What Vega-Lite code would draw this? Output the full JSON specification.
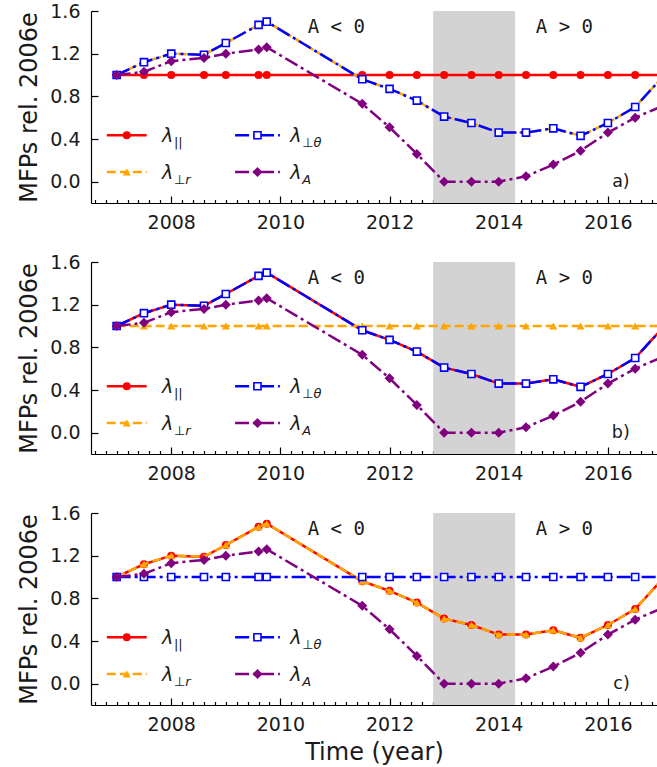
{
"$schema": "https://vega.github.io/schema/vega-lite/v6.json",
"padding": {"left": 17, "top": 2, "right": 0, "bottom": 0},
"datasets": {
"mfp": [
{"t":2007.0,"modulated":1.00,"lamA":1.00,"fixed":1.0},
{"t":2007.5,"modulated":1.12,"lamA":1.03,"fixed":1.0},
{"t":2008.0,"modulated":1.20,"lamA":1.13,"fixed":1.0},
{"t":2008.6,"modulated":1.19,"lamA":1.16,"fixed":1.0},
{"t":2009.0,"modulated":1.30,"lamA":1.20,"fixed":1.0},
{"t":2009.6,"modulated":1.47,"lamA":1.24,"fixed":1.0},
{"t":2009.75,"modulated":1.50,"lamA":1.26,"fixed":1.0},
{"t":2011.5,"modulated":0.96,"lamA":0.73,"fixed":1.0},
{"t":2012.0,"modulated":0.87,"lamA":0.51,"fixed":1.0},
{"t":2012.5,"modulated":0.76,"lamA":0.26,"fixed":1.0},
{"t":2013.0,"modulated":0.61,"lamA":0.0,"fixed":1.0},
{"t":2013.5,"modulated":0.55,"lamA":0.0,"fixed":1.0},
{"t":2014.0,"modulated":0.46,"lamA":0.0,"fixed":1.0},
{"t":2014.5,"modulated":0.46,"lamA":0.05,"fixed":1.0},
{"t":2015.0,"modulated":0.50,"lamA":0.16,"fixed":1.0},
{"t":2015.5,"modulated":0.43,"lamA":0.29,"fixed":1.0},
{"t":2016.0,"modulated":0.55,"lamA":0.46,"fixed":1.0},
{"t":2016.5,"modulated":0.70,"lamA":0.60,"fixed":1.0},
{"t":2017.0,"modulated":0.98,"lamA":0.71,"fixed":1.0}
],
"bands": [{"start": 2012.8, "end": 2014.3}]
},
"config": {
"view": {"stroke": null},
"font": "DejaVu Sans",
"axis": {"domainColor": "black", "domainWidth": 1.2, "tickColor": "black", "tickWidth": 1.2, "labelFont": "DejaVu Sans", "labelFontSize": 19, "labelColor": "#1a1a1a", "titleFont": "DejaVu Sans", "titleFontSize": 24, "titleFontWeight": "normal", "titleColor": "#1a1a1a", "grid": false, "zindex": 1}
},
"spacing": 59,
"bounds": "flush",
"vconcat": [
{
"width": 566, "height": 192,
"resolve": {"axis": {"x": "independent", "y": "independent"}},
"layer": [
{"data": {"name": "bands"}, "mark": {"type": "rect", "color": "#d3d3d3"},
 "encoding": {
  "x": {"field": "start", "type": "quantitative", "scale": {"domain": [2006.53, 2016.9], "nice": false, "zero": false},
   "axis": {"orient": "bottom", "values": [2006.6,2006.8,2007,2007.2,2007.4,2007.6,2007.8,2008,2008.2,2008.4,2008.6,2008.8,2009,2009.2,2009.4,2009.6,2009.8,2010,2010.2,2010.4,2010.6,2010.8,2011,2011.2,2011.4,2011.6,2011.8,2012,2012.2,2012.4,2012.6,2012.8,2013,2013.2,2013.4,2013.6,2013.8,2014,2014.2,2014.4,2014.6,2014.8,2015,2015.2,2015.4,2015.6,2015.8,2016,2016.2,2016.4,2016.6,2016.8],
    "labelExpr": "abs(datum.value - 2*round(datum.value/2)) < 0.01 ? format(datum.value, 'd') : ''", "labelOverlap": false, "labelFlush": false,
    "tickSize": {"condition": {"test": "abs(datum.value - 2*round(datum.value/2)) < 0.01", "value": -7}, "value": -3.5}, "labelPadding": 17, "title": null}},
  "x2": {"field": "end"},
  "y": {"datum": -0.2, "type": "quantitative", "scale": {"domain": [-0.2, 1.6], "nice": false, "zero": false},
   "axis": {"orient": "left", "values": [0, 0.4, 0.8, 1.2, 1.6], "format": ".1f", "tickSize": -7, "labelPadding": 18, "title": "MFPs rel. 2006e", "titlePadding": 8.5}},
  "y2": {"datum": 1.6}
 }},
{"data": {"name": "mfp"}, "layer": [
 {"mark": {"type": "line", "color": "#ff0000", "strokeWidth": 2.5, "clip": true}, "encoding": {"x": {"field": "t", "type": "quantitative", "axis": null}, "y": {"field": "fixed", "type": "quantitative", "axis": null}}},
 {"mark": {"type": "point", "shape": "circle", "filled": true, "color": "#ff0000", "size": 64, "opacity": 1, "clip": true}, "encoding": {"x": {"field": "t", "type": "quantitative", "axis": null}, "y": {"field": "fixed", "type": "quantitative", "axis": null}}},
 {"mark": {"type": "line", "color": "#ffa500", "strokeWidth": 2.5, "strokeDash": [9, 4], "clip": true}, "encoding": {"x": {"field": "t", "type": "quantitative", "axis": null}, "y": {"field": "modulated", "type": "quantitative", "axis": null}}},
 {"mark": {"type": "point", "shape": "triangle-up", "filled": true, "color": "#ffa500", "size": 64, "opacity": 1, "clip": true}, "encoding": {"x": {"field": "t", "type": "quantitative", "axis": null}, "y": {"field": "modulated", "type": "quantitative", "axis": null}}},
 {"mark": {"type": "line", "color": "#0000ff", "strokeWidth": 2.5, "strokeDash": [14, 4, 3, 4], "clip": true}, "encoding": {"x": {"field": "t", "type": "quantitative", "axis": null}, "y": {"field": "modulated", "type": "quantitative", "axis": null}}},
 {"mark": {"type": "point", "shape": "square", "filled": true, "fill": "white", "stroke": "#0000ff", "strokeWidth": 1.6, "size": 50, "opacity": 1, "clip": true}, "encoding": {"x": {"field": "t", "type": "quantitative", "axis": null}, "y": {"field": "modulated", "type": "quantitative", "axis": null}}},
 {"mark": {"type": "line", "color": "#800080", "strokeWidth": 2.5, "strokeDash": [14, 4, 3, 4], "clip": true}, "encoding": {"x": {"field": "t", "type": "quantitative", "axis": null}, "y": {"field": "lamA", "type": "quantitative", "axis": null}}},
 {"mark": {"type": "point", "shape": "diamond", "filled": true, "color": "#800080", "size": 100, "opacity": 1, "clip": true}, "encoding": {"x": {"field": "t", "type": "quantitative", "axis": null}, "y": {"field": "lamA", "type": "quantitative", "axis": null}}}
]},
{"data": {"values": [{}]}, "layer": [
 {"mark": {"type": "text", "text": "A < 0", "font": "DejaVu Sans Mono", "fontSize": 19, "align": "left", "baseline": "middle", "color": "#1a1a1a"},
  "encoding": {"x": {"datum": 2010.5, "type": "quantitative", "axis": {"orient": "top", "values": [2006.6,2006.8,2007,2007.2,2007.4,2007.6,2007.8,2008,2008.2,2008.4,2008.6,2008.8,2009,2009.2,2009.4,2009.6,2009.8,2010,2010.2,2010.4,2010.6,2010.8,2011,2011.2,2011.4,2011.6,2011.8,2012,2012.2,2012.4,2012.6,2012.8,2013,2013.2,2013.4,2013.6,2013.8,2014,2014.2,2014.4,2014.6,2014.8,2015,2015.2,2015.4,2015.6,2015.8,2016,2016.2,2016.4,2016.6,2016.8], "labels": false, "tickSize": {"condition": {"test": "abs(datum.value - 2*round(datum.value/2)) < 0.01", "value": -7}, "value": -3.5}, "title": null}},
   "y": {"datum": 1.45, "type": "quantitative", "axis": {"orient": "right", "values": [0, 0.4, 0.8, 1.2, 1.6], "labels": false, "domain": false, "tickSize": -7, "title": null}}}},
 {"mark": {"type": "text", "text": "A > 0", "font": "DejaVu Sans Mono", "fontSize": 19, "align": "left", "baseline": "middle", "color": "#1a1a1a"},
  "encoding": {"x": {"datum": 2014.68, "type": "quantitative", "axis": null}, "y": {"datum": 1.45, "type": "quantitative", "axis": null}}},
 {"mark": {"type": "text", "text": "a)", "fontSize": 17.5, "align": "right", "baseline": "middle", "color": "#1a1a1a"},
  "encoding": {"x": {"datum": 2016.4, "type": "quantitative", "axis": null}, "y": {"datum": 0.0, "type": "quantitative", "axis": null}}},
 {"mark": {"type": "rule", "color": "#ff0000", "strokeWidth": 2.5}, "encoding": {"x": {"datum": 2006.82, "type": "quantitative", "axis": null}, "x2": {"datum": 2007.55}, "y": {"datum": 0.435, "type": "quantitative", "axis": null}}},
 {"mark": {"type": "point", "shape": "circle", "filled": true, "color": "#ff0000", "size": 64, "opacity": 1}, "encoding": {"x": {"datum": 2007.185, "type": "quantitative", "axis": null}, "y": {"datum": 0.435, "type": "quantitative", "axis": null}}},
 {"mark": {"type": "rule", "color": "#ffa500", "strokeWidth": 2.5, "strokeDash": [9, 4]}, "encoding": {"x": {"datum": 2006.82, "type": "quantitative", "axis": null}, "x2": {"datum": 2007.55}, "y": {"datum": 0.09, "type": "quantitative", "axis": null}}},
 {"mark": {"type": "point", "shape": "triangle-up", "filled": true, "color": "#ffa500", "size": 64, "opacity": 1}, "encoding": {"x": {"datum": 2007.185, "type": "quantitative", "axis": null}, "y": {"datum": 0.09, "type": "quantitative", "axis": null}}},
 {"mark": {"type": "rule", "color": "#0000ff", "strokeWidth": 2.5, "strokeDash": [14, 4, 3, 4]}, "encoding": {"x": {"datum": 2009.17, "type": "quantitative", "axis": null}, "x2": {"datum": 2009.99}, "y": {"datum": 0.435, "type": "quantitative", "axis": null}}},
 {"mark": {"type": "point", "shape": "square", "filled": true, "fill": "white", "stroke": "#0000ff", "strokeWidth": 1.6, "size": 50, "opacity": 1}, "encoding": {"x": {"datum": 2009.58, "type": "quantitative", "axis": null}, "y": {"datum": 0.435, "type": "quantitative", "axis": null}}},
 {"mark": {"type": "rule", "color": "#800080", "strokeWidth": 2.5, "strokeDash": [14, 4, 3, 4]}, "encoding": {"x": {"datum": 2009.17, "type": "quantitative", "axis": null}, "x2": {"datum": 2009.99}, "y": {"datum": 0.09, "type": "quantitative", "axis": null}}},
 {"mark": {"type": "point", "shape": "diamond", "filled": true, "color": "#800080", "size": 100, "opacity": 1}, "encoding": {"x": {"datum": 2009.58, "type": "quantitative", "axis": null}, "y": {"datum": 0.09, "type": "quantitative", "axis": null}}},
 {"mark": {"type": "text", "text": "λ", "fontStyle": "italic", "fontSize": 19, "align": "left", "baseline": "alphabetic", "color": "#1a1a1a"}, "encoding": {"x": {"datum": 2007.83, "type": "quantitative", "axis": null}, "y": {"datum": 0.369, "type": "quantitative", "axis": null}}},
 {"mark": {"type": "text", "text": "||", "fontSize": 13, "align": "left", "baseline": "alphabetic", "color": "#1a1a1a"}, "encoding": {"x": {"datum": 2008.05, "type": "quantitative", "axis": null}, "y": {"datum": 0.322, "type": "quantitative", "axis": null}}},
 {"mark": {"type": "text", "text": "λ", "fontStyle": "italic", "fontSize": 19, "align": "left", "baseline": "alphabetic", "color": "#1a1a1a"}, "encoding": {"x": {"datum": 2007.83, "type": "quantitative", "axis": null}, "y": {"datum": 0.024, "type": "quantitative", "axis": null}}},
 {"mark": {"type": "text", "text": "⊥r", "fontStyle": "italic", "fontSize": 13, "align": "left", "baseline": "alphabetic", "color": "#1a1a1a"}, "encoding": {"x": {"datum": 2008.05, "type": "quantitative", "axis": null}, "y": {"datum": -0.023, "type": "quantitative", "axis": null}}},
 {"mark": {"type": "text", "text": "λ", "fontStyle": "italic", "fontSize": 19, "align": "left", "baseline": "alphabetic", "color": "#1a1a1a"}, "encoding": {"x": {"datum": 2010.18, "type": "quantitative", "axis": null}, "y": {"datum": 0.369, "type": "quantitative", "axis": null}}},
 {"mark": {"type": "text", "text": "⊥θ", "fontStyle": "italic", "fontSize": 13, "align": "left", "baseline": "alphabetic", "color": "#1a1a1a"}, "encoding": {"x": {"datum": 2010.40, "type": "quantitative", "axis": null}, "y": {"datum": 0.322, "type": "quantitative", "axis": null}}},
 {"mark": {"type": "text", "text": "λ", "fontStyle": "italic", "fontSize": 19, "align": "left", "baseline": "alphabetic", "color": "#1a1a1a"}, "encoding": {"x": {"datum": 2010.18, "type": "quantitative", "axis": null}, "y": {"datum": 0.024, "type": "quantitative", "axis": null}}},
 {"mark": {"type": "text", "text": "A", "fontStyle": "italic", "fontSize": 13, "align": "left", "baseline": "alphabetic", "color": "#1a1a1a"}, "encoding": {"x": {"datum": 2010.40, "type": "quantitative", "axis": null}, "y": {"datum": -0.023, "type": "quantitative", "axis": null}}}
]}
]
},
{
"width": 566, "height": 192,
"resolve": {"axis": {"x": "independent", "y": "independent"}},
"layer": [
{"data": {"name": "bands"}, "mark": {"type": "rect", "color": "#d3d3d3"},
 "encoding": {
  "x": {"field": "start", "type": "quantitative", "scale": {"domain": [2006.53, 2016.9], "nice": false, "zero": false},
   "axis": {"orient": "bottom", "values": [2006.6,2006.8,2007,2007.2,2007.4,2007.6,2007.8,2008,2008.2,2008.4,2008.6,2008.8,2009,2009.2,2009.4,2009.6,2009.8,2010,2010.2,2010.4,2010.6,2010.8,2011,2011.2,2011.4,2011.6,2011.8,2012,2012.2,2012.4,2012.6,2012.8,2013,2013.2,2013.4,2013.6,2013.8,2014,2014.2,2014.4,2014.6,2014.8,2015,2015.2,2015.4,2015.6,2015.8,2016,2016.2,2016.4,2016.6,2016.8],
    "labelExpr": "abs(datum.value - 2*round(datum.value/2)) < 0.01 ? format(datum.value, 'd') : ''", "labelOverlap": false, "labelFlush": false,
    "tickSize": {"condition": {"test": "abs(datum.value - 2*round(datum.value/2)) < 0.01", "value": -7}, "value": -3.5}, "labelPadding": 17, "title": null}},
  "x2": {"field": "end"},
  "y": {"datum": -0.2, "type": "quantitative", "scale": {"domain": [-0.2, 1.6], "nice": false, "zero": false},
   "axis": {"orient": "left", "values": [0, 0.4, 0.8, 1.2, 1.6], "format": ".1f", "tickSize": -7, "labelPadding": 18, "title": "MFPs rel. 2006e", "titlePadding": 8.5}},
  "y2": {"datum": 1.6}
 }},
{"data": {"name": "mfp"}, "layer": [
 {"mark": {"type": "line", "color": "#ff0000", "strokeWidth": 2.5, "clip": true}, "encoding": {"x": {"field": "t", "type": "quantitative", "axis": null}, "y": {"field": "modulated", "type": "quantitative", "axis": null}}},
 {"mark": {"type": "point", "shape": "circle", "filled": true, "color": "#ff0000", "size": 64, "opacity": 1, "clip": true}, "encoding": {"x": {"field": "t", "type": "quantitative", "axis": null}, "y": {"field": "modulated", "type": "quantitative", "axis": null}}},
 {"mark": {"type": "line", "color": "#ffa500", "strokeWidth": 2.5, "strokeDash": [9, 4], "clip": true}, "encoding": {"x": {"field": "t", "type": "quantitative", "axis": null}, "y": {"field": "fixed", "type": "quantitative", "axis": null}}},
 {"mark": {"type": "point", "shape": "triangle-up", "filled": true, "color": "#ffa500", "size": 64, "opacity": 1, "clip": true}, "encoding": {"x": {"field": "t", "type": "quantitative", "axis": null}, "y": {"field": "fixed", "type": "quantitative", "axis": null}}},
 {"mark": {"type": "line", "color": "#0000ff", "strokeWidth": 2.5, "strokeDash": [14, 4, 3, 4], "clip": true}, "encoding": {"x": {"field": "t", "type": "quantitative", "axis": null}, "y": {"field": "modulated", "type": "quantitative", "axis": null}}},
 {"mark": {"type": "point", "shape": "square", "filled": true, "fill": "white", "stroke": "#0000ff", "strokeWidth": 1.6, "size": 50, "opacity": 1, "clip": true}, "encoding": {"x": {"field": "t", "type": "quantitative", "axis": null}, "y": {"field": "modulated", "type": "quantitative", "axis": null}}},
 {"mark": {"type": "line", "color": "#800080", "strokeWidth": 2.5, "strokeDash": [14, 4, 3, 4], "clip": true}, "encoding": {"x": {"field": "t", "type": "quantitative", "axis": null}, "y": {"field": "lamA", "type": "quantitative", "axis": null}}},
 {"mark": {"type": "point", "shape": "diamond", "filled": true, "color": "#800080", "size": 100, "opacity": 1, "clip": true}, "encoding": {"x": {"field": "t", "type": "quantitative", "axis": null}, "y": {"field": "lamA", "type": "quantitative", "axis": null}}}
]},
{"data": {"values": [{}]}, "layer": [
 {"mark": {"type": "text", "text": "A < 0", "font": "DejaVu Sans Mono", "fontSize": 19, "align": "left", "baseline": "middle", "color": "#1a1a1a"},
  "encoding": {"x": {"datum": 2010.5, "type": "quantitative", "axis": {"orient": "top", "values": [2006.6,2006.8,2007,2007.2,2007.4,2007.6,2007.8,2008,2008.2,2008.4,2008.6,2008.8,2009,2009.2,2009.4,2009.6,2009.8,2010,2010.2,2010.4,2010.6,2010.8,2011,2011.2,2011.4,2011.6,2011.8,2012,2012.2,2012.4,2012.6,2012.8,2013,2013.2,2013.4,2013.6,2013.8,2014,2014.2,2014.4,2014.6,2014.8,2015,2015.2,2015.4,2015.6,2015.8,2016,2016.2,2016.4,2016.6,2016.8], "labels": false, "tickSize": {"condition": {"test": "abs(datum.value - 2*round(datum.value/2)) < 0.01", "value": -7}, "value": -3.5}, "title": null}},
   "y": {"datum": 1.45, "type": "quantitative", "axis": {"orient": "right", "values": [0, 0.4, 0.8, 1.2, 1.6], "labels": false, "domain": false, "tickSize": -7, "title": null}}}},
 {"mark": {"type": "text", "text": "A > 0", "font": "DejaVu Sans Mono", "fontSize": 19, "align": "left", "baseline": "middle", "color": "#1a1a1a"},
  "encoding": {"x": {"datum": 2014.68, "type": "quantitative", "axis": null}, "y": {"datum": 1.45, "type": "quantitative", "axis": null}}},
 {"mark": {"type": "text", "text": "b)", "fontSize": 17.5, "align": "right", "baseline": "middle", "color": "#1a1a1a"},
  "encoding": {"x": {"datum": 2016.4, "type": "quantitative", "axis": null}, "y": {"datum": 0.0, "type": "quantitative", "axis": null}}},
 {"mark": {"type": "rule", "color": "#ff0000", "strokeWidth": 2.5}, "encoding": {"x": {"datum": 2006.82, "type": "quantitative", "axis": null}, "x2": {"datum": 2007.55}, "y": {"datum": 0.435, "type": "quantitative", "axis": null}}},
 {"mark": {"type": "point", "shape": "circle", "filled": true, "color": "#ff0000", "size": 64, "opacity": 1}, "encoding": {"x": {"datum": 2007.185, "type": "quantitative", "axis": null}, "y": {"datum": 0.435, "type": "quantitative", "axis": null}}},
 {"mark": {"type": "rule", "color": "#ffa500", "strokeWidth": 2.5, "strokeDash": [9, 4]}, "encoding": {"x": {"datum": 2006.82, "type": "quantitative", "axis": null}, "x2": {"datum": 2007.55}, "y": {"datum": 0.09, "type": "quantitative", "axis": null}}},
 {"mark": {"type": "point", "shape": "triangle-up", "filled": true, "color": "#ffa500", "size": 64, "opacity": 1}, "encoding": {"x": {"datum": 2007.185, "type": "quantitative", "axis": null}, "y": {"datum": 0.09, "type": "quantitative", "axis": null}}},
 {"mark": {"type": "rule", "color": "#0000ff", "strokeWidth": 2.5, "strokeDash": [14, 4, 3, 4]}, "encoding": {"x": {"datum": 2009.17, "type": "quantitative", "axis": null}, "x2": {"datum": 2009.99}, "y": {"datum": 0.435, "type": "quantitative", "axis": null}}},
 {"mark": {"type": "point", "shape": "square", "filled": true, "fill": "white", "stroke": "#0000ff", "strokeWidth": 1.6, "size": 50, "opacity": 1}, "encoding": {"x": {"datum": 2009.58, "type": "quantitative", "axis": null}, "y": {"datum": 0.435, "type": "quantitative", "axis": null}}},
 {"mark": {"type": "rule", "color": "#800080", "strokeWidth": 2.5, "strokeDash": [14, 4, 3, 4]}, "encoding": {"x": {"datum": 2009.17, "type": "quantitative", "axis": null}, "x2": {"datum": 2009.99}, "y": {"datum": 0.09, "type": "quantitative", "axis": null}}},
 {"mark": {"type": "point", "shape": "diamond", "filled": true, "color": "#800080", "size": 100, "opacity": 1}, "encoding": {"x": {"datum": 2009.58, "type": "quantitative", "axis": null}, "y": {"datum": 0.09, "type": "quantitative", "axis": null}}},
 {"mark": {"type": "text", "text": "λ", "fontStyle": "italic", "fontSize": 19, "align": "left", "baseline": "alphabetic", "color": "#1a1a1a"}, "encoding": {"x": {"datum": 2007.83, "type": "quantitative", "axis": null}, "y": {"datum": 0.369, "type": "quantitative", "axis": null}}},
 {"mark": {"type": "text", "text": "||", "fontSize": 13, "align": "left", "baseline": "alphabetic", "color": "#1a1a1a"}, "encoding": {"x": {"datum": 2008.05, "type": "quantitative", "axis": null}, "y": {"datum": 0.322, "type": "quantitative", "axis": null}}},
 {"mark": {"type": "text", "text": "λ", "fontStyle": "italic", "fontSize": 19, "align": "left", "baseline": "alphabetic", "color": "#1a1a1a"}, "encoding": {"x": {"datum": 2007.83, "type": "quantitative", "axis": null}, "y": {"datum": 0.024, "type": "quantitative", "axis": null}}},
 {"mark": {"type": "text", "text": "⊥r", "fontStyle": "italic", "fontSize": 13, "align": "left", "baseline": "alphabetic", "color": "#1a1a1a"}, "encoding": {"x": {"datum": 2008.05, "type": "quantitative", "axis": null}, "y": {"datum": -0.023, "type": "quantitative", "axis": null}}},
 {"mark": {"type": "text", "text": "λ", "fontStyle": "italic", "fontSize": 19, "align": "left", "baseline": "alphabetic", "color": "#1a1a1a"}, "encoding": {"x": {"datum": 2010.18, "type": "quantitative", "axis": null}, "y": {"datum": 0.369, "type": "quantitative", "axis": null}}},
 {"mark": {"type": "text", "text": "⊥θ", "fontStyle": "italic", "fontSize": 13, "align": "left", "baseline": "alphabetic", "color": "#1a1a1a"}, "encoding": {"x": {"datum": 2010.40, "type": "quantitative", "axis": null}, "y": {"datum": 0.322, "type": "quantitative", "axis": null}}},
 {"mark": {"type": "text", "text": "λ", "fontStyle": "italic", "fontSize": 19, "align": "left", "baseline": "alphabetic", "color": "#1a1a1a"}, "encoding": {"x": {"datum": 2010.18, "type": "quantitative", "axis": null}, "y": {"datum": 0.024, "type": "quantitative", "axis": null}}},
 {"mark": {"type": "text", "text": "A", "fontStyle": "italic", "fontSize": 13, "align": "left", "baseline": "alphabetic", "color": "#1a1a1a"}, "encoding": {"x": {"datum": 2010.40, "type": "quantitative", "axis": null}, "y": {"datum": -0.023, "type": "quantitative", "axis": null}}}
]}
]
},
{
"width": 566, "height": 192,
"resolve": {"axis": {"x": "independent", "y": "independent"}},
"layer": [
{"data": {"name": "bands"}, "mark": {"type": "rect", "color": "#d3d3d3"},
 "encoding": {
  "x": {"field": "start", "type": "quantitative", "scale": {"domain": [2006.53, 2016.9], "nice": false, "zero": false},
   "axis": {"orient": "bottom", "values": [2006.6,2006.8,2007,2007.2,2007.4,2007.6,2007.8,2008,2008.2,2008.4,2008.6,2008.8,2009,2009.2,2009.4,2009.6,2009.8,2010,2010.2,2010.4,2010.6,2010.8,2011,2011.2,2011.4,2011.6,2011.8,2012,2012.2,2012.4,2012.6,2012.8,2013,2013.2,2013.4,2013.6,2013.8,2014,2014.2,2014.4,2014.6,2014.8,2015,2015.2,2015.4,2015.6,2015.8,2016,2016.2,2016.4,2016.6,2016.8],
    "labelExpr": "abs(datum.value - 2*round(datum.value/2)) < 0.01 ? format(datum.value, 'd') : ''", "labelOverlap": false, "labelFlush": false,
    "tickSize": {"condition": {"test": "abs(datum.value - 2*round(datum.value/2)) < 0.01", "value": -7}, "value": -3.5}, "labelPadding": 17, "title": "Time (year)", "titlePadding": 3}},
  "x2": {"field": "end"},
  "y": {"datum": -0.2, "type": "quantitative", "scale": {"domain": [-0.2, 1.6], "nice": false, "zero": false},
   "axis": {"orient": "left", "values": [0, 0.4, 0.8, 1.2, 1.6], "format": ".1f", "tickSize": -7, "labelPadding": 18, "title": "MFPs rel. 2006e", "titlePadding": 8.5}},
  "y2": {"datum": 1.6}
 }},
{"data": {"name": "mfp"}, "layer": [
 {"mark": {"type": "line", "color": "#ff0000", "strokeWidth": 2.5, "clip": true}, "encoding": {"x": {"field": "t", "type": "quantitative", "axis": null}, "y": {"field": "modulated", "type": "quantitative", "axis": null}}},
 {"mark": {"type": "point", "shape": "circle", "filled": true, "color": "#ff0000", "size": 64, "opacity": 1, "clip": true}, "encoding": {"x": {"field": "t", "type": "quantitative", "axis": null}, "y": {"field": "modulated", "type": "quantitative", "axis": null}}},
 {"mark": {"type": "line", "color": "#ffa500", "strokeWidth": 2.5, "strokeDash": [9, 4], "clip": true}, "encoding": {"x": {"field": "t", "type": "quantitative", "axis": null}, "y": {"field": "modulated", "type": "quantitative", "axis": null}}},
 {"mark": {"type": "point", "shape": "triangle-up", "filled": true, "color": "#ffa500", "size": 64, "opacity": 1, "clip": true}, "encoding": {"x": {"field": "t", "type": "quantitative", "axis": null}, "y": {"field": "modulated", "type": "quantitative", "axis": null}}},
 {"mark": {"type": "line", "color": "#0000ff", "strokeWidth": 2.5, "strokeDash": [14, 4, 3, 4], "clip": true}, "encoding": {"x": {"field": "t", "type": "quantitative", "axis": null}, "y": {"field": "fixed", "type": "quantitative", "axis": null}}},
 {"mark": {"type": "point", "shape": "square", "filled": true, "fill": "white", "stroke": "#0000ff", "strokeWidth": 1.6, "size": 50, "opacity": 1, "clip": true}, "encoding": {"x": {"field": "t", "type": "quantitative", "axis": null}, "y": {"field": "fixed", "type": "quantitative", "axis": null}}},
 {"mark": {"type": "line", "color": "#800080", "strokeWidth": 2.5, "strokeDash": [14, 4, 3, 4], "clip": true}, "encoding": {"x": {"field": "t", "type": "quantitative", "axis": null}, "y": {"field": "lamA", "type": "quantitative", "axis": null}}},
 {"mark": {"type": "point", "shape": "diamond", "filled": true, "color": "#800080", "size": 100, "opacity": 1, "clip": true}, "encoding": {"x": {"field": "t", "type": "quantitative", "axis": null}, "y": {"field": "lamA", "type": "quantitative", "axis": null}}}
]},
{"data": {"values": [{}]}, "layer": [
 {"mark": {"type": "text", "text": "A < 0", "font": "DejaVu Sans Mono", "fontSize": 19, "align": "left", "baseline": "middle", "color": "#1a1a1a"},
  "encoding": {"x": {"datum": 2010.5, "type": "quantitative", "axis": {"orient": "top", "values": [2006.6,2006.8,2007,2007.2,2007.4,2007.6,2007.8,2008,2008.2,2008.4,2008.6,2008.8,2009,2009.2,2009.4,2009.6,2009.8,2010,2010.2,2010.4,2010.6,2010.8,2011,2011.2,2011.4,2011.6,2011.8,2012,2012.2,2012.4,2012.6,2012.8,2013,2013.2,2013.4,2013.6,2013.8,2014,2014.2,2014.4,2014.6,2014.8,2015,2015.2,2015.4,2015.6,2015.8,2016,2016.2,2016.4,2016.6,2016.8], "labels": false, "tickSize": {"condition": {"test": "abs(datum.value - 2*round(datum.value/2)) < 0.01", "value": -7}, "value": -3.5}, "title": null}},
   "y": {"datum": 1.45, "type": "quantitative", "axis": {"orient": "right", "values": [0, 0.4, 0.8, 1.2, 1.6], "labels": false, "domain": false, "tickSize": -7, "title": null}}}},
 {"mark": {"type": "text", "text": "A > 0", "font": "DejaVu Sans Mono", "fontSize": 19, "align": "left", "baseline": "middle", "color": "#1a1a1a"},
  "encoding": {"x": {"datum": 2014.68, "type": "quantitative", "axis": null}, "y": {"datum": 1.45, "type": "quantitative", "axis": null}}},
 {"mark": {"type": "text", "text": "c)", "fontSize": 17.5, "align": "right", "baseline": "middle", "color": "#1a1a1a"},
  "encoding": {"x": {"datum": 2016.4, "type": "quantitative", "axis": null}, "y": {"datum": 0.0, "type": "quantitative", "axis": null}}},
 {"mark": {"type": "rule", "color": "#ff0000", "strokeWidth": 2.5}, "encoding": {"x": {"datum": 2006.82, "type": "quantitative", "axis": null}, "x2": {"datum": 2007.55}, "y": {"datum": 0.435, "type": "quantitative", "axis": null}}},
 {"mark": {"type": "point", "shape": "circle", "filled": true, "color": "#ff0000", "size": 64, "opacity": 1}, "encoding": {"x": {"datum": 2007.185, "type": "quantitative", "axis": null}, "y": {"datum": 0.435, "type": "quantitative", "axis": null}}},
 {"mark": {"type": "rule", "color": "#ffa500", "strokeWidth": 2.5, "strokeDash": [9, 4]}, "encoding": {"x": {"datum": 2006.82, "type": "quantitative", "axis": null}, "x2": {"datum": 2007.55}, "y": {"datum": 0.09, "type": "quantitative", "axis": null}}},
 {"mark": {"type": "point", "shape": "triangle-up", "filled": true, "color": "#ffa500", "size": 64, "opacity": 1}, "encoding": {"x": {"datum": 2007.185, "type": "quantitative", "axis": null}, "y": {"datum": 0.09, "type": "quantitative", "axis": null}}},
 {"mark": {"type": "rule", "color": "#0000ff", "strokeWidth": 2.5, "strokeDash": [14, 4, 3, 4]}, "encoding": {"x": {"datum": 2009.17, "type": "quantitative", "axis": null}, "x2": {"datum": 2009.99}, "y": {"datum": 0.435, "type": "quantitative", "axis": null}}},
 {"mark": {"type": "point", "shape": "square", "filled": true, "fill": "white", "stroke": "#0000ff", "strokeWidth": 1.6, "size": 50, "opacity": 1}, "encoding": {"x": {"datum": 2009.58, "type": "quantitative", "axis": null}, "y": {"datum": 0.435, "type": "quantitative", "axis": null}}},
 {"mark": {"type": "rule", "color": "#800080", "strokeWidth": 2.5, "strokeDash": [14, 4, 3, 4]}, "encoding": {"x": {"datum": 2009.17, "type": "quantitative", "axis": null}, "x2": {"datum": 2009.99}, "y": {"datum": 0.09, "type": "quantitative", "axis": null}}},
 {"mark": {"type": "point", "shape": "diamond", "filled": true, "color": "#800080", "size": 100, "opacity": 1}, "encoding": {"x": {"datum": 2009.58, "type": "quantitative", "axis": null}, "y": {"datum": 0.09, "type": "quantitative", "axis": null}}},
 {"mark": {"type": "text", "text": "λ", "fontStyle": "italic", "fontSize": 19, "align": "left", "baseline": "alphabetic", "color": "#1a1a1a"}, "encoding": {"x": {"datum": 2007.83, "type": "quantitative", "axis": null}, "y": {"datum": 0.369, "type": "quantitative", "axis": null}}},
 {"mark": {"type": "text", "text": "||", "fontSize": 13, "align": "left", "baseline": "alphabetic", "color": "#1a1a1a"}, "encoding": {"x": {"datum": 2008.05, "type": "quantitative", "axis": null}, "y": {"datum": 0.322, "type": "quantitative", "axis": null}}},
 {"mark": {"type": "text", "text": "λ", "fontStyle": "italic", "fontSize": 19, "align": "left", "baseline": "alphabetic", "color": "#1a1a1a"}, "encoding": {"x": {"datum": 2007.83, "type": "quantitative", "axis": null}, "y": {"datum": 0.024, "type": "quantitative", "axis": null}}},
 {"mark": {"type": "text", "text": "⊥r", "fontStyle": "italic", "fontSize": 13, "align": "left", "baseline": "alphabetic", "color": "#1a1a1a"}, "encoding": {"x": {"datum": 2008.05, "type": "quantitative", "axis": null}, "y": {"datum": -0.023, "type": "quantitative", "axis": null}}},
 {"mark": {"type": "text", "text": "λ", "fontStyle": "italic", "fontSize": 19, "align": "left", "baseline": "alphabetic", "color": "#1a1a1a"}, "encoding": {"x": {"datum": 2010.18, "type": "quantitative", "axis": null}, "y": {"datum": 0.369, "type": "quantitative", "axis": null}}},
 {"mark": {"type": "text", "text": "⊥θ", "fontStyle": "italic", "fontSize": 13, "align": "left", "baseline": "alphabetic", "color": "#1a1a1a"}, "encoding": {"x": {"datum": 2010.40, "type": "quantitative", "axis": null}, "y": {"datum": 0.322, "type": "quantitative", "axis": null}}},
 {"mark": {"type": "text", "text": "λ", "fontStyle": "italic", "fontSize": 19, "align": "left", "baseline": "alphabetic", "color": "#1a1a1a"}, "encoding": {"x": {"datum": 2010.18, "type": "quantitative", "axis": null}, "y": {"datum": 0.024, "type": "quantitative", "axis": null}}},
 {"mark": {"type": "text", "text": "A", "fontStyle": "italic", "fontSize": 13, "align": "left", "baseline": "alphabetic", "color": "#1a1a1a"}, "encoding": {"x": {"datum": 2010.40, "type": "quantitative", "axis": null}, "y": {"datum": -0.023, "type": "quantitative", "axis": null}}}
]}
]
}
]
}
